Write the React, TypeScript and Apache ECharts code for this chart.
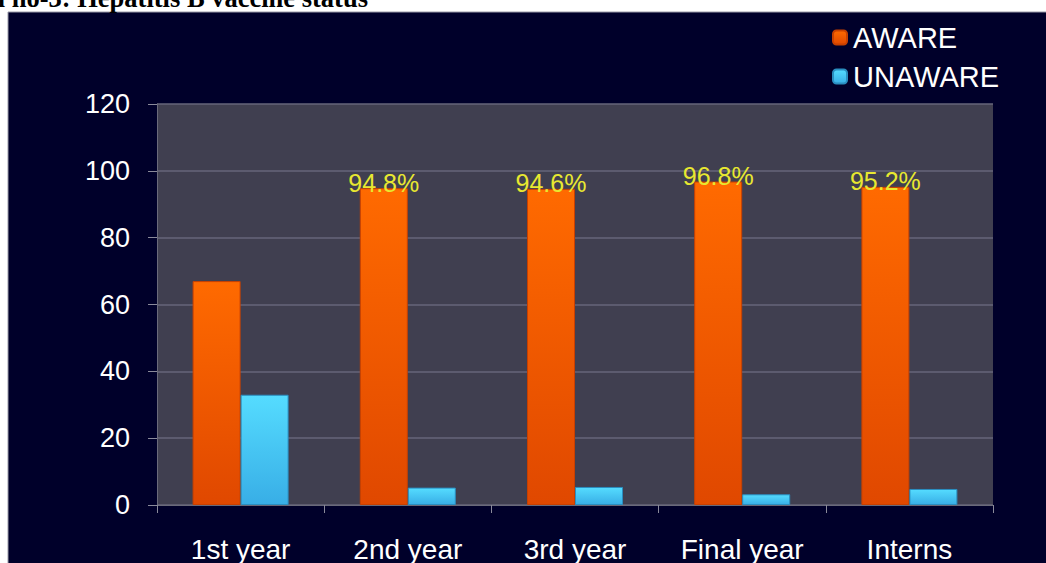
import React, { useEffect, useRef } from "react";
import * as echarts from "echarts";

const categories = ["1st year", "2nd year", "3rd year", "Final year", "Interns"];
const awareValues = [67, 94.8, 94.6, 96.8, 95.2];
const unawareValues = [33, 5.2, 5.4, 3.2, 4.8];
const labelShown = [false, true, true, true, true];
const yTicks = { min: 0, max: 120, interval: 20 };

export default function App() {
  const ref = useRef<HTMLDivElement>(null);
  useEffect(() => {
    if (!ref.current) return;
    const chart = echarts.init(ref.current, null, { renderer: "svg" });
    const sans = "Liberation Sans, Arial, sans-serif";
    chart.setOption({
      animation: false,
      backgroundColor: "#ffffff",
      graphic: [
        {
          type: "rect",
          shape: { x: 8, y: 12, width: 1040, height: 560 },
          style: { fill: "#00002a", stroke: "#9a9aa8", lineWidth: 1 },
          z: -10,
        },
        {
          type: "text",
          x: -70,
          y: 11,
          style: {
            text: "Graph no-3: Hepatitis B vaccine status",
            font: "bold 26.5px 'Liberation Serif', 'Times New Roman', serif",
            fill: "#000000",
            verticalAlign: "bottom",
          },
        },
      ],
      legend: {
        orient: "vertical",
        left: 827,
        top: 18,
        itemWidth: 14,
        itemHeight: 14,
        itemGap: 10,
        textStyle: { color: "#ffffff", fontSize: 29, fontFamily: sans, padding: [0, 0, 0, 1] },
        data: ["AWARE", "UNAWARE"],
      },
      grid: {
        left: 157,
        right: 53,
        top: 104,
        bottom: 58,
        show: true,
        backgroundColor: "#403f50",
        borderWidth: 0,
      },
      xAxis: {
        type: "category",
        data: categories,
        axisLine: { show: true, lineStyle: { color: "#6a6a7a" } },
        axisTick: { show: true, length: 8, lineStyle: { color: "#8a8a9a" } },
        axisLabel: { color: "#ffffff", fontSize: 28, fontFamily: sans, margin: 30 },
      },
      yAxis: {
        type: "value",
        min: yTicks.min,
        max: yTicks.max,
        interval: yTicks.interval,
        axisLine: { show: true, lineStyle: { color: "#6a6a7a" } },
        axisTick: { show: true, length: 9, lineStyle: { color: "#8a8a9a" } },
        axisLabel: { color: "#ffffff", fontSize: 27, fontFamily: sans, margin: 27 },
        splitLine: { lineStyle: { color: "#66667a", width: 1.5 } },
      },
      series: [
        {
          name: "AWARE",
          type: "bar",
          barWidth: 48,
          barGap: "0%",
          itemStyle: {
            color: new echarts.graphic.LinearGradient(0, 0, 0, 1, [
              { offset: 0, color: "#ff6a00" },
              { offset: 1, color: "#e04800" },
            ]),
            borderColor: "#c84000",
            borderWidth: 1,
          },
          label: {
            position: "top",
            distance: -7,
            color: "#e8e830",
            fontSize: 25,
            fontFamily: sans,
            formatter: "{c}%",
          },
          data: awareValues.map((v, i) => ({ value: v, label: { show: labelShown[i] } })),
        },
        {
          name: "UNAWARE",
          type: "bar",
          barWidth: 48,
          itemStyle: {
            color: new echarts.graphic.LinearGradient(0, 0, 0, 1, [
              { offset: 0, color: "#55dcff" },
              { offset: 1, color: "#38aee6" },
            ]),
            borderColor: "#2a8ec0",
            borderWidth: 1,
          },
          data: unawareValues,
        },
      ],
    });
    return () => chart.dispose();
  }, []);
  return (
    <div
      ref={ref}
      style={{ position: "fixed", left: 0, top: 0, width: 1046, height: 563 }}
    />
  );
}
